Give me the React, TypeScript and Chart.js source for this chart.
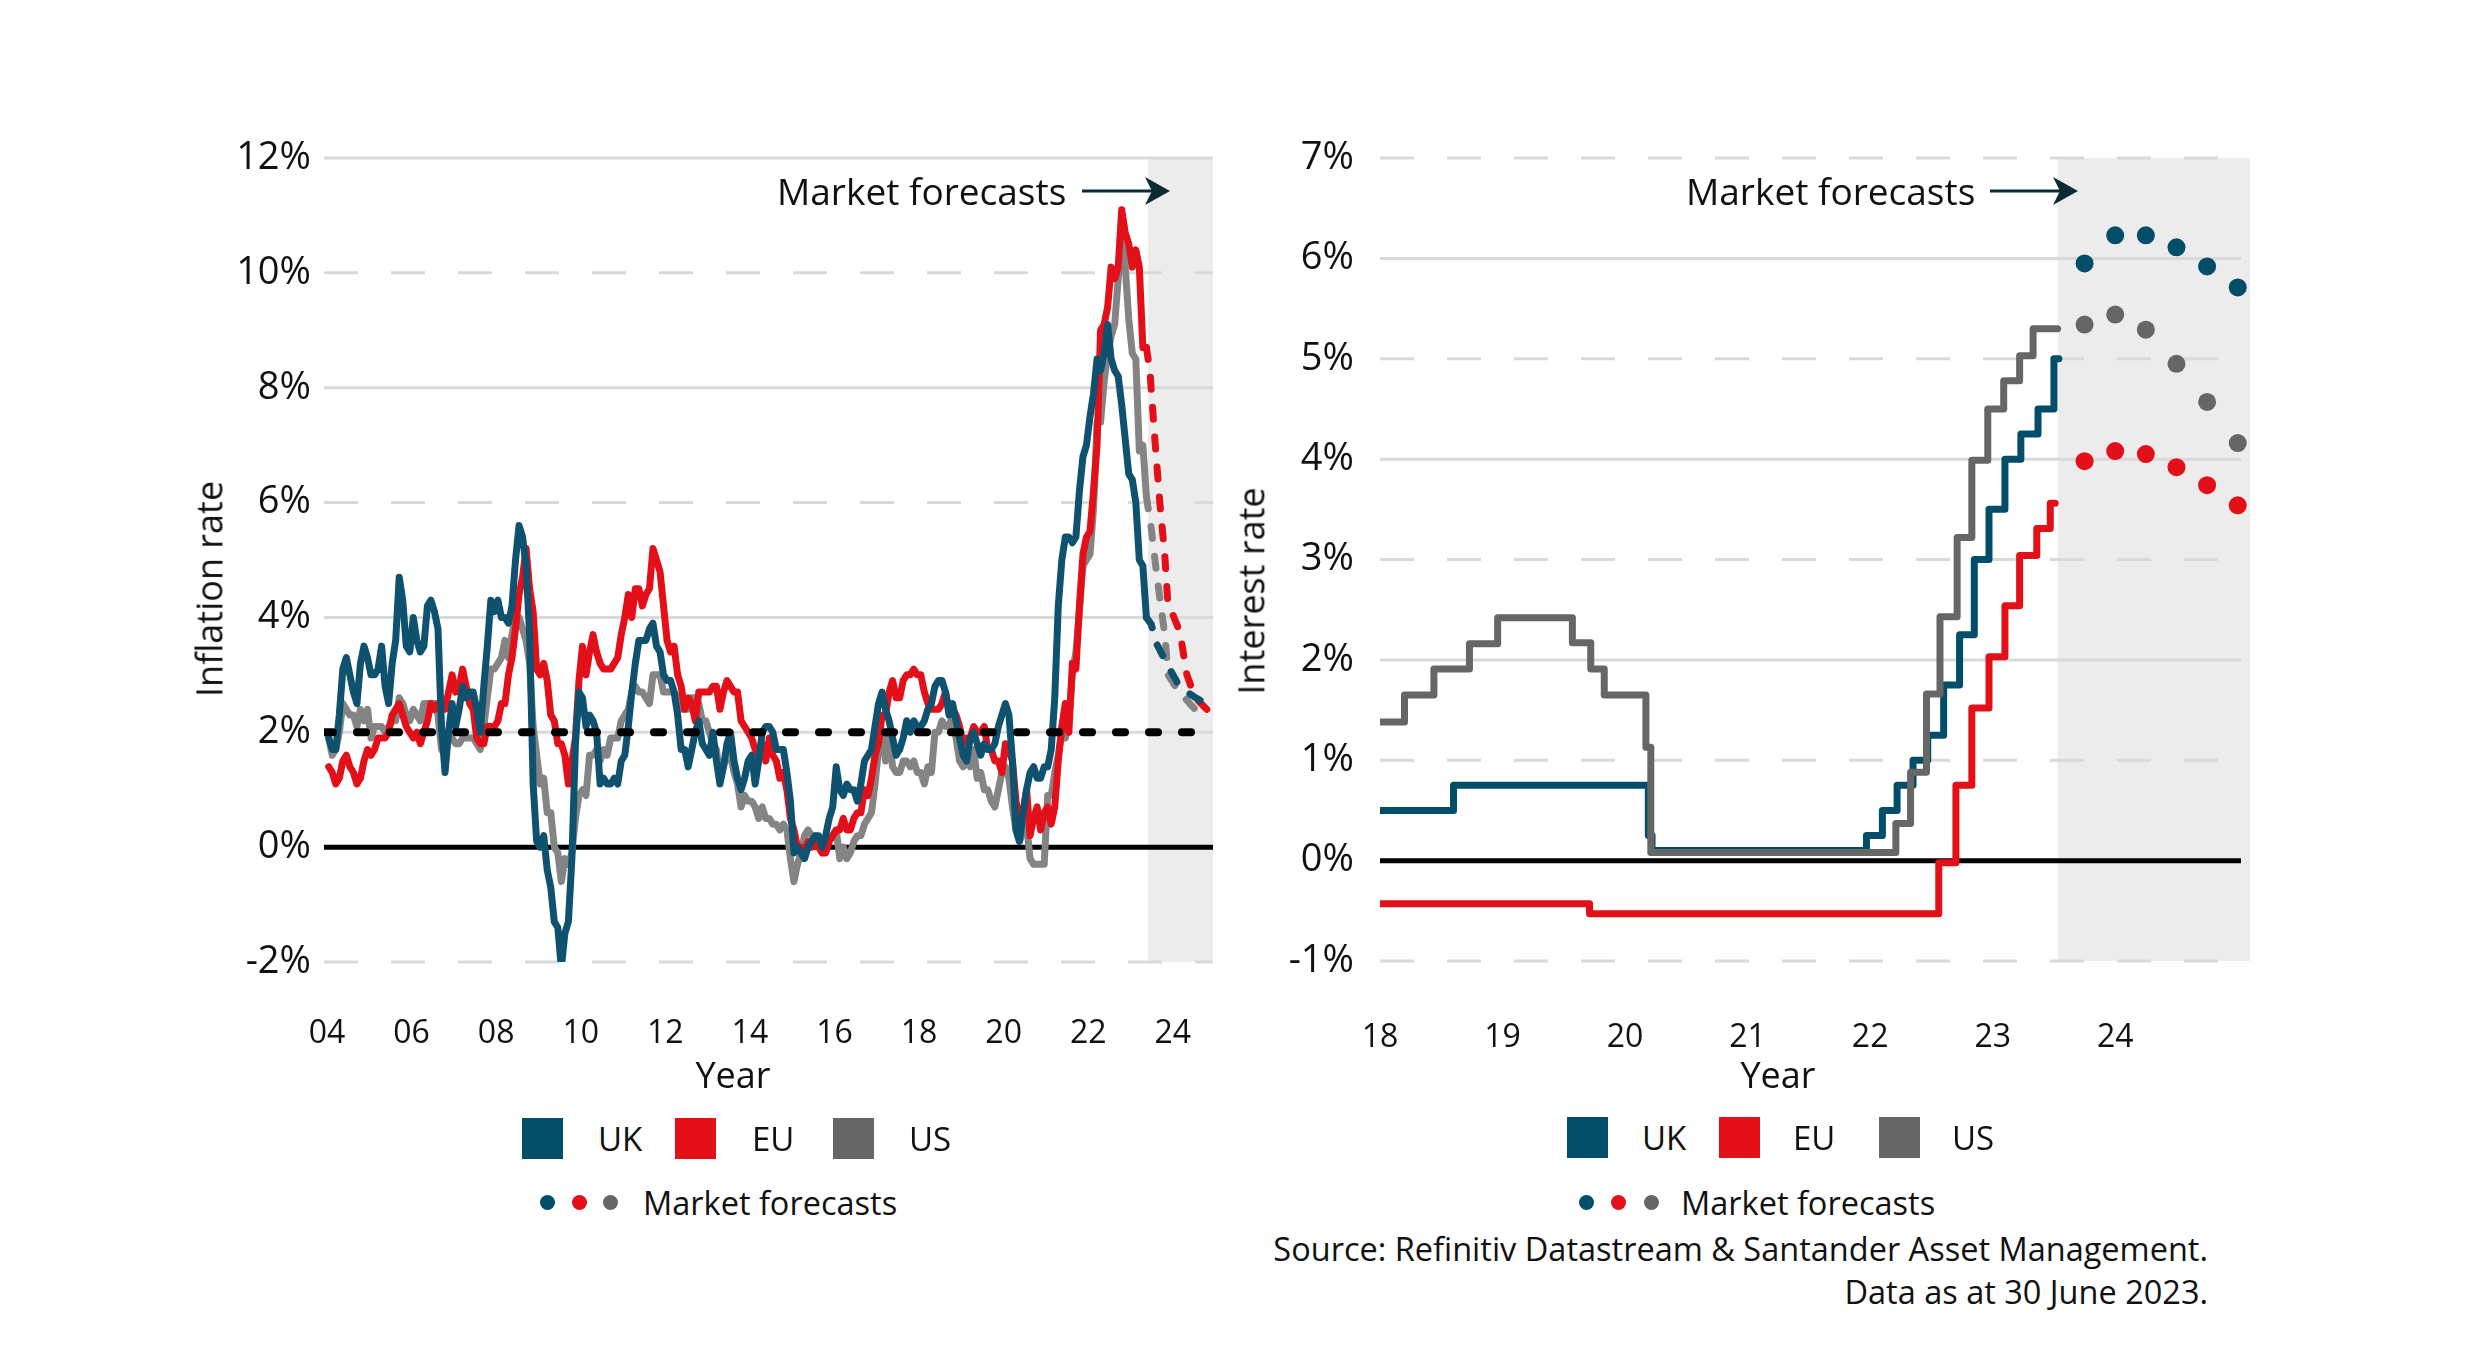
import React, { useEffect, useRef } from 'react';
import { Chart, registerables } from 'chart.js';

Chart.register(...registerables);

const FONT = "'Open Sans', sans-serif";
const TEXT = '#111111';

const UK_LINE = '#0f5270';
const UK_DARK = '#024e69';
const EU_RED = '#e3101a';
const US_LINE_LEFT = '#848484';
const US_GREY = '#666666';
const ARROW = '#0c2a33';

// ================= Left panel: inflation (monthly, Jan 2004 - May 2023) =================
const inflationStartYear = 2004;

// dark blue line (legend "UK")
const ukInflation = [
  1.9, 1.7, 1.7, 2.3, 3.1, 3.3, 3.0, 2.7, 2.5, 3.2, 3.5, 3.3,
  3.0, 3.0, 3.1, 3.5, 2.8, 2.5, 3.2, 3.6, 4.7, 4.3, 3.5, 3.4,
  4.0, 3.6, 3.4, 3.5, 4.2, 4.3, 4.1, 3.8, 2.1, 1.3, 2.0, 2.5,
  2.1, 2.4, 2.8, 2.6, 2.7, 2.7, 2.4, 2.0, 2.8, 3.5, 4.3, 4.1,
  4.3, 4.0, 4.0, 3.9, 4.2, 5.0, 5.6, 5.4, 4.9, 3.7, 1.1, 0.1,
  0.0, 0.2, -0.4, -0.7, -1.3, -1.4, -2.1, -1.5, -1.3, -0.2, 1.8, 2.7,
  2.6, 2.1, 2.3, 2.2, 2.0, 1.1, 1.2, 1.1, 1.1, 1.2, 1.1, 1.5,
  1.6, 2.1, 2.7, 3.2, 3.6, 3.6, 3.6, 3.8, 3.9, 3.5, 3.4, 3.0,
  2.9, 2.9, 2.7, 2.3, 1.7, 1.7, 1.4, 1.7, 2.0, 2.2, 1.8, 1.7,
  1.6, 2.0, 1.5, 1.1, 1.4, 1.8, 2.0, 1.5, 1.2, 1.0, 1.2, 1.5,
  1.6, 1.1, 1.5, 2.0, 2.1, 2.1, 2.0, 1.7, 1.7, 1.7, 1.3, 0.8,
  -0.1, 0.0, -0.1, -0.2, 0.0, 0.1, 0.2, 0.2, 0.0, 0.2, 0.5, 0.7,
  1.4, 1.0, 0.9, 1.1, 1.0, 1.0, 0.8, 1.1, 1.5, 1.6, 1.7, 2.1,
  2.5, 2.7, 2.4, 2.2, 1.9, 1.6, 1.7, 1.9, 2.2, 2.0, 2.2, 2.1,
  2.1, 2.2, 2.4, 2.5, 2.8, 2.9, 2.9, 2.7, 2.3, 2.5, 2.2, 1.9,
  1.6, 1.5, 1.9, 2.0, 1.8, 1.6, 1.8, 1.7, 1.7, 1.8, 2.1, 2.3,
  2.5, 2.3, 1.5, 0.3, 0.1, 0.6, 1.0, 1.3, 1.4, 1.2, 1.2, 1.4,
  1.4, 1.7, 2.6, 4.2, 5.0, 5.4, 5.4, 5.3, 5.4, 6.2, 6.8, 7.0,
  7.5, 7.9, 8.5, 8.3, 8.6, 9.1, 8.5, 8.3, 8.2, 7.7, 7.1, 6.5,
  6.4, 6.0, 5.0, 4.9, 4.0,
];

// red line (legend "EU")
const euInflation = [
  1.4, 1.3, 1.1, 1.2, 1.5, 1.6, 1.4, 1.3, 1.1, 1.2, 1.5, 1.7,
  1.6, 1.7, 1.9, 1.9, 1.9, 2.0, 2.3, 2.4, 2.5, 2.3, 2.1, 2.0,
  1.9, 2.0, 1.8, 2.0, 2.2, 2.5, 2.4, 2.5, 2.4, 2.4, 2.7, 3.0,
  2.7, 2.8, 3.1, 2.8, 2.5, 2.4, 1.9, 1.8, 1.8, 2.1, 2.1, 2.1,
  2.2, 2.5, 2.5, 3.0, 3.3, 3.8, 4.4, 4.7, 5.2, 4.5, 4.1, 3.1,
  3.0, 3.2, 2.9, 2.3, 2.2, 1.8, 1.8, 1.6, 1.1, 1.5, 1.9, 2.9,
  3.5, 3.0, 3.4, 3.7, 3.4, 3.2, 3.1, 3.1, 3.1, 3.2, 3.3, 3.7,
  4.0, 4.4, 4.0, 4.5, 4.5, 4.2, 4.4, 4.5, 5.2, 5.0, 4.8, 4.2,
  3.6, 3.4, 3.5, 3.0, 2.8, 2.4, 2.6, 2.5, 2.2, 2.7, 2.7, 2.7,
  2.7, 2.8, 2.8, 2.4, 2.7, 2.9, 2.8, 2.7, 2.7, 2.2, 2.1, 2.0,
  1.9, 1.7, 1.6, 1.8, 1.5, 1.9, 1.6, 1.5, 1.2, 1.3, 1.0, 0.5,
  0.3, 0.0, 0.0, -0.1, 0.1, 0.0, 0.1, 0.0, -0.1, -0.1, 0.1, 0.2,
  0.3, 0.3, 0.5, 0.3, 0.3, 0.5, 0.6, 0.6, 1.0, 0.9, 1.2, 1.6,
  1.8, 2.3, 2.3, 2.7, 2.9, 2.6, 2.6, 2.9, 3.0, 3.0, 3.1, 3.0,
  3.0, 2.7, 2.5, 2.4, 2.4, 2.4, 2.5, 2.7, 2.4, 2.4, 2.3, 2.1,
  1.8, 1.9, 1.9, 2.1, 2.0, 2.0, 2.1, 1.7, 1.7, 1.5, 1.5, 1.3,
  1.8, 1.7, 1.5, 0.8, 0.5, 0.6, 1.0, 0.2, 0.5, 0.7, 0.3, 0.6,
  0.7, 0.4, 0.7, 1.5, 2.1, 2.5, 2.0, 3.2, 3.1, 4.2, 5.1, 5.4,
  5.5, 6.2, 7.0, 9.0, 9.1, 9.4, 10.1, 9.9, 10.1, 11.1, 10.7, 10.5,
  10.1, 10.4, 10.1, 8.7, 8.7,
];

// grey line (legend "US")
const usInflation = [
  1.9, 1.6, 1.7, 2.0, 2.5, 2.4, 2.3, 2.3, 2.1, 2.4, 2.2, 2.4,
  1.9, 2.1, 2.1, 2.1, 2.0, 2.1, 2.2, 2.2, 2.6, 2.5, 2.3, 2.2,
  2.4, 2.3, 2.2, 2.5, 2.5, 2.5, 2.5, 2.3, 1.7, 1.6, 1.9, 1.9,
  1.8, 1.8, 1.9, 1.9, 1.9, 1.9, 1.8, 1.7, 2.1, 2.6, 3.1, 3.1,
  3.2, 3.3, 3.6, 3.3, 3.7, 4.0, 4.0, 3.8, 3.6, 3.2, 2.1, 1.6,
  1.1, 1.2, 0.6, 0.6, 0.0, -0.1, -0.6, -0.2, -0.3, -0.1, 0.5, 0.9,
  1.0, 0.9, 1.6, 1.6, 1.7, 1.5, 1.7, 1.6, 1.9, 1.9, 1.9, 2.2,
  2.3, 2.4, 2.7, 2.8, 2.7, 2.7, 2.6, 2.5, 3.0, 3.0, 3.0, 2.7,
  2.7, 2.7, 2.7, 2.6, 2.4, 2.4, 2.4, 2.6, 2.6, 2.5, 2.2, 2.2,
  2.0, 1.8, 1.7, 1.2, 1.4, 1.6, 1.6, 1.3, 1.1, 0.7, 0.9, 0.8,
  0.8, 0.7, 0.5, 0.7, 0.5, 0.5, 0.4, 0.4, 0.3, 0.4, 0.3, -0.2,
  -0.6, -0.3, -0.1, 0.2, 0.3, 0.2, 0.2, 0.1, -0.1, 0.1, 0.1, 0.2,
  0.3, -0.2, 0.0, -0.2, -0.1, 0.1, 0.2, 0.2, 0.4, 0.5, 0.6, 1.1,
  1.7, 2.0, 1.5, 1.9, 1.4, 1.3, 1.3, 1.5, 1.5, 1.4, 1.5, 1.3,
  1.3, 1.1, 1.4, 1.3, 2.0, 2.0, 2.2, 2.1, 2.1, 2.3, 1.9, 1.5,
  1.4, 1.5, 1.4, 1.7, 1.2, 1.3, 1.0, 1.0, 0.8, 0.7, 1.0, 1.3,
  1.4, 1.2, 0.7, 0.3, 0.1, 0.3, 0.4, -0.2, -0.3, -0.3, -0.3, -0.3,
  0.9, 0.9, 1.3, 1.6, 2.0, 1.9, 2.2, 3.0, 3.4, 4.1, 4.9, 5.0,
  5.1, 5.9, 7.4, 7.4, 8.1, 8.6, 8.9, 9.1, 9.9, 10.6, 10.1, 9.2,
  8.6, 8.5, 6.9, 7.0, 6.1,
];

// market forecasts (dashed), dates as decimal years
const ukInflationForecastDates = [2023.375, 2023.49, 2023.61, 2023.89, 2024.17, 2024.5, 2024.78];
const ukInflationForecast = [4.0, 3.88, 3.55, 3.15, 2.78, 2.62, 2.5];
const euInflationForecastDates = [2023.375, 2023.46, 2023.57, 2023.69, 2023.81, 2023.88, 2024.0, 2024.17, 2024.33, 2024.52, 2024.87];
const euInflationForecast = [8.7, 8.28, 7.15, 6.02, 5.08, 4.28, 4.05, 3.74, 3.01, 2.61, 2.35];
const usInflationForecastDates = [2023.375, 2023.49, 2023.61, 2023.69, 2023.81, 2023.89, 2024.13, 2024.4, 2024.65];
const usInflationForecast = [6.1, 5.55, 4.8, 4.35, 3.7, 3.0, 2.72, 2.5, 2.3];

const inflationTarget = 2;
const inflationXMin = 2003.93;
const inflationXMax = 2024.95;
const inflationForecastStart = 2023.41;
const inflationXTicks = [2004, 2006, 2008, 2010, 2012, 2014, 2016, 2018, 2020, 2022, 2024];
const inflationYMin = -2;
const inflationYMax = 12;
const inflationYStep = 2;

// ================= Right panel: policy interest rates =================
const ukRateDates = [2018.0, 2018.6, 2020.19, 2020.22, 2021.97, 2022.1, 2022.22, 2022.35, 2022.47, 2022.6, 2022.73, 2022.85, 2022.97, 2023.1, 2023.23, 2023.37, 2023.5, 2023.54];
const ukRateValues = [0.5, 0.75, 0.25, 0.1, 0.25, 0.5, 0.75, 1.0, 1.25, 1.75, 2.25, 3.0, 3.5, 4.0, 4.25, 4.5, 5.0, 5.0];

const usRateDates = [2018.0, 2018.2, 2018.44, 2018.73, 2018.96, 2019.57, 2019.72, 2019.83, 2020.17, 2020.21, 2022.21, 2022.33, 2022.46, 2022.57, 2022.71, 2022.83, 2022.96, 2023.09, 2023.22, 2023.33, 2023.53];
const usRateValues = [1.38, 1.65, 1.91, 2.16, 2.42, 2.17, 1.91, 1.65, 1.13, 0.08, 0.37, 0.88, 1.66, 2.43, 3.22, 3.99, 4.5, 4.78, 5.03, 5.3, 5.3];

const euRateDates = [2018.0, 2019.71, 2022.56, 2022.7, 2022.83, 2022.97, 2023.1, 2023.22, 2023.36, 2023.47, 2023.51];
const euRateValues = [-0.43, -0.53, -0.02, 0.75, 1.52, 2.03, 2.54, 3.04, 3.31, 3.56, 3.56];

const rateForecastDates = [2023.75, 2024.0, 2024.25, 2024.5, 2024.75, 2025.0];
const ukRateForecast = [5.95, 6.23, 6.23, 6.11, 5.92, 5.71];
const usRateForecast = [5.34, 5.44, 5.29, 4.95, 4.57, 4.16];
const euRateForecast = [3.98, 4.08, 4.05, 3.92, 3.74, 3.54];

const rateXMin = 2018.0;
const rateXMax = 2025.1;
const rateForecastStart = 2023.53;
const rateXTicks = [2018, 2019, 2020, 2021, 2022, 2023, 2024];
const rateYMin = -1;
const rateYMax = 7;
const rateYStep = 1;

// ================= helpers =================
const monthly = (values: number[]) =>
  values.map((v, i) => ({ x: inflationStartYear + (i + 0.5) / 12, y: v }));
const pairs = (xs: number[], ys: number[]) => xs.map((x, i) => ({ x, y: ys[i] }));

function makeBackdrop(id: string, shadeFrom: number, dashedTicks: number[], gridInset: number) {
  return {
    id,
    beforeDatasetsDraw(chart: any) {
      const { ctx, chartArea: a, scales } = chart;
      const xs = scales.x;
      const ys = scales.y;
      ctx.save();
      const sx = xs.getPixelForValue(shadeFrom);
      ctx.fillStyle = '#ececec';
      ctx.fillRect(sx, a.top, a.right - sx, a.bottom - a.top);
      const right = a.right - gridInset;
      ys.ticks.forEach((t: any) => {
        const py = ys.getPixelForValue(t.value);
        ctx.beginPath();
        if (t.value === 0) {
          ctx.strokeStyle = '#000000';
          ctx.lineWidth = 5;
          ctx.setLineDash([]);
        } else {
          ctx.strokeStyle = '#d9d9d9';
          ctx.lineWidth = 3;
          ctx.setLineDash(dashedTicks.includes(t.value) ? [34, 33] : []);
        }
        ctx.moveTo(a.left, py);
        ctx.lineTo(right, py);
        ctx.stroke();
      });
      ctx.restore();
    },
  };
}

const lineBase = {
  pointRadius: 0,
  pointHoverRadius: 0,
  tension: 0,
  fill: false,
  borderCapStyle: 'round',
  borderJoinStyle: 'round',
};

function leftConfig(): any {
  return {
    type: 'line',
    data: {
      datasets: [
        { ...lineBase, label: '2% target', data: pairs([inflationXMin, inflationXMax], [inflationTarget, inflationTarget]), borderColor: '#000000', borderWidth: 8, borderDash: [9, 24], order: 0 },
        { ...lineBase, label: 'UK', data: monthly(ukInflation), borderColor: UK_LINE, borderWidth: 7, order: 1 },
        { ...lineBase, label: 'UK forecast', data: pairs(ukInflationForecastDates, ukInflationForecast), borderColor: UK_LINE, borderWidth: 7, borderDash: [12, 18], order: 2 },
        { ...lineBase, label: 'EU', data: monthly(euInflation), borderColor: EU_RED, borderWidth: 7, order: 3 },
        { ...lineBase, label: 'EU forecast', data: pairs(euInflationForecastDates, euInflationForecast), borderColor: EU_RED, borderWidth: 7, borderDash: [12, 18], order: 4 },
        { ...lineBase, label: 'US', data: monthly(usInflation), borderColor: US_LINE_LEFT, borderWidth: 7, order: 5 },
        { ...lineBase, label: 'US forecast', data: pairs(usInflationForecastDates, usInflationForecast), borderColor: US_LINE_LEFT, borderWidth: 7, borderDash: [12, 18], order: 6 },
      ],
    },
    options: {
      animation: false,
      responsive: false,
      devicePixelRatio: 1,
      events: [],
      layout: { padding: { left: 0, top: 158, right: 27, bottom: 0 } },
      plugins: { legend: { display: false }, tooltip: { enabled: false } },
      scales: {
        x: {
          type: 'linear',
          min: inflationXMin,
          max: inflationXMax,
          grid: { display: false, drawTicks: true, tickLength: 50 },
          border: { display: false },
          afterBuildTicks: (s: any) => { s.ticks = inflationXTicks.map((v) => ({ value: v })); },
          afterFit: (s: any) => { s.height = 98; },
          ticks: {
            padding: 3,
            autoSkip: false,
            maxRotation: 0,
            color: TEXT,
            font: { family: FONT, size: 32 },
            callback: (v: any) => String(v).slice(2),
          },
        },
        y: {
          type: 'linear',
          min: inflationYMin,
          max: inflationYMax,
          grid: { display: false, drawTicks: false },
          border: { display: false },
          afterFit: (s: any) => { s.width = 324; },
          ticks: {
            stepSize: inflationYStep,
            padding: 13,
            color: TEXT,
            font: { family: FONT, size: 38 },
            callback: (v: any) => `${v}%`,
          },
        },
      },
    },
    plugins: [makeBackdrop('leftBackdrop', inflationForecastStart, [10, 6, -2], 0)],
  };
}

function rightConfig(): any {
  const dots = (dates: number[], vals: number[], color: string, order: number) => ({
    label: 'forecast', data: pairs(dates, vals), showLine: false, pointRadius: 9, pointHoverRadius: 9,
    pointBackgroundColor: color, pointBorderWidth: 0, borderColor: color, order,
  });
  return {
    type: 'line',
    data: {
      datasets: [
        { ...lineBase, label: 'US', data: pairs(usRateDates, usRateValues), stepped: true, borderColor: US_GREY, borderWidth: 7, order: 0 },
        { ...lineBase, label: 'UK', data: pairs(ukRateDates, ukRateValues), stepped: true, borderColor: UK_DARK, borderWidth: 7, order: 1 },
        { ...lineBase, label: 'EU', data: pairs(euRateDates, euRateValues), stepped: true, borderColor: EU_RED, borderWidth: 7, order: 2 },
        dots(rateForecastDates, ukRateForecast, UK_DARK, 3),
        dots(rateForecastDates, usRateForecast, US_GREY, 4),
        dots(rateForecastDates, euRateForecast, EU_RED, 5),
      ],
    },
    options: {
      animation: false,
      responsive: false,
      devicePixelRatio: 1,
      events: [],
      layout: { padding: { left: 0, top: 158, right: 230, bottom: 0 } },
      plugins: { legend: { display: false }, tooltip: { enabled: false } },
      scales: {
        x: {
          type: 'linear',
          min: rateXMin,
          max: rateXMax,
          grid: { display: false, drawTicks: true, tickLength: 55 },
          border: { display: false },
          afterBuildTicks: (s: any) => { s.ticks = rateXTicks.map((v) => ({ value: v })); },
          afterFit: (s: any) => { s.height = 99; },
          ticks: {
            padding: 3,
            autoSkip: false,
            maxRotation: 0,
            color: TEXT,
            font: { family: FONT, size: 32 },
            callback: (v: any) => String(v).slice(2),
          },
        },
        y: {
          type: 'linear',
          min: rateYMin,
          max: rateYMax,
          grid: { display: false, drawTicks: false },
          border: { display: false },
          afterFit: (s: any) => { s.width = 140; },
          ticks: {
            stepSize: rateYStep,
            padding: 26,
            color: TEXT,
            font: { family: FONT, size: 38 },
            callback: (v: any) => `${v}%`,
          },
        },
      },
    },
    plugins: [makeBackdrop('rightBackdrop', rateForecastStart, [7, 5, 3, 1, -1], 9)],
  };
}

// ================= UI pieces =================
const baseText: React.CSSProperties = {
  position: 'absolute',
  fontFamily: FONT,
  color: TEXT,
  whiteSpace: 'nowrap',
  lineHeight: 1.2,
};

function Label(props: { left: number; cy: number; size: number; children: React.ReactNode; center?: boolean }) {
  return (
    <div
      style={{
        ...baseText,
        left: props.left,
        top: props.cy,
        fontSize: props.size,
        transform: props.center ? 'translate(-50%, -50%)' : 'translateY(-50%)',
      }}
    >
      {props.children}
    </div>
  );
}

function Arrow(props: { left: number; cy: number }) {
  return (
    <svg style={{ position: 'absolute', left: props.left, top: props.cy - 16 }} width={95} height={32}>
      <line x1={2} y1={16} x2={78} y2={16} stroke={ARROW} strokeWidth={3} />
      <path d="M90,16 L65,2 L72,16 L65,30 Z" fill={ARROW} />
    </svg>
  );
}

function Square(props: { left: number; top: number; color: string }) {
  return <div style={{ position: 'absolute', left: props.left, top: props.top, width: 41, height: 41, background: props.color }} />;
}

function Dot(props: { cx: number; cy: number; color: string }) {
  return (
    <div
      style={{
        position: 'absolute', left: props.cx - 7.5, top: props.cy - 7.5, width: 15, height: 15,
        borderRadius: '50%', background: props.color,
      }}
    />
  );
}

function Legend(props: { sq: number[]; sqTop: number; tx: number[]; dots: number[]; mfLeft: number }) {
  const colors = [UK_DARK, EU_RED, US_GREY];
  const names = ['UK', 'EU', 'US'];
  const cy = props.sqTop + 20.5;
  return (
    <>
      {names.map((n, i) => (
        <React.Fragment key={n}>
          <Square left={props.sq[i]} top={props.sqTop} color={colors[i]} />
          <Label left={props.tx[i]} cy={cy} size={33}>{n}</Label>
        </React.Fragment>
      ))}
      {props.dots.map((x, i) => <Dot key={i} cx={x} cy={1202} color={colors[i]} />)}
      <Label left={props.mfLeft} cy={1202} size={32.5}>Market forecasts</Label>
    </>
  );
}

export default function App() {
  const leftRef = useRef<HTMLCanvasElement>(null);
  const rightRef = useRef<HTMLCanvasElement>(null);

  useEffect(() => {
    const c1 = new Chart(leftRef.current as HTMLCanvasElement, leftConfig());
    const c2 = new Chart(rightRef.current as HTMLCanvasElement, rightConfig());
    return () => {
      c1.destroy();
      c2.destroy();
    };
  }, []);

  return (
    <div style={{ position: 'absolute', left: 0, top: 0, width: 2480, height: 1356, background: '#ffffff', overflow: 'hidden' }}>
      <canvas ref={leftRef} width={1240} height={1060} style={{ position: 'absolute', left: 0, top: 0, width: 1240, height: 1060 }} />
      <canvas ref={rightRef} width={1240} height={1060} style={{ position: 'absolute', left: 1240, top: 0, width: 1240, height: 1060 }} />

      {/* annotations */}
      <Label left={777} cy={191} size={37}>Market forecasts</Label>
      <Arrow left={1080} cy={191} />
      <Label left={1686} cy={191} size={37}>Market forecasts</Label>
      <Arrow left={1988} cy={191} />

      {/* axis titles */}
      <div style={{ ...baseText, left: 209, top: 589, fontSize: 36, transform: 'translate(-50%, -50%) rotate(-90deg)' }}>Inflation rate</div>
      <div style={{ ...baseText, left: 1251, top: 591, fontSize: 36, transform: 'translate(-50%, -50%) rotate(-90deg)' }}>Interest rate</div>
      <Label left={733} cy={1075} size={36} center>Year</Label>
      <Label left={1778} cy={1075} size={36} center>Year</Label>

      {/* legends */}
      <Legend sq={[522, 675, 833]} sqTop={1118} tx={[598, 752, 909]} dots={[547, 579, 610]} mfLeft={643} />
      <Legend sq={[1567, 1719, 1879]} sqTop={1117} tx={[1642, 1793, 1952]} dots={[1586, 1618, 1651]} mfLeft={1681} />

      {/* source */}
      <div style={{ ...baseText, right: 272, top: 1226.5, fontSize: 32.5, lineHeight: '43px', textAlign: 'right' }}>
        Source: Refinitiv Datastream &amp; Santander Asset Management.
        <br />
        Data as at 30 June 2023.
      </div>
    </div>
  );
}
